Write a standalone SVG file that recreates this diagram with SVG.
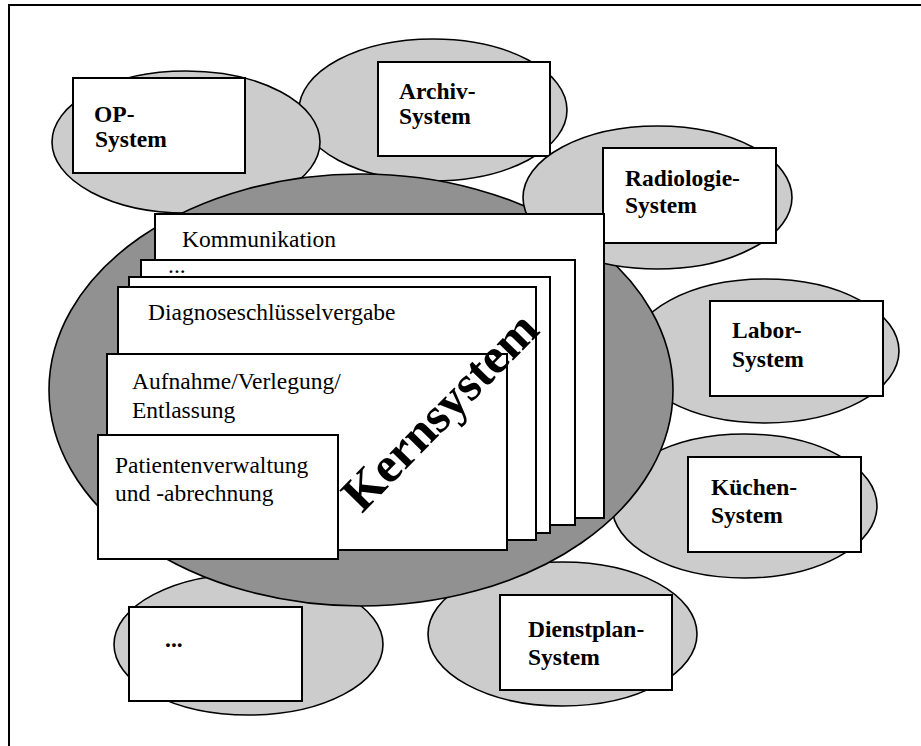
<svg xmlns="http://www.w3.org/2000/svg" width="921" height="746" viewBox="0 0 921 746">
<style>
.sat{fill:#cccccc;stroke:#000;stroke-width:1.6}
.core{fill:#919191;stroke:#000;stroke-width:1.6}
.box{fill:#fff;stroke:#000;stroke-width:2}
.mod{fill:#fff;stroke:#000;stroke-width:2}
text{font-family:'Liberation Serif','Tinos','DejaVu Serif','Noto Serif','Times New Roman',serif;fill:#000}
.bt{font-weight:bold;font-size:23.5px}
.rt{font-size:23.5px}
.big{font-weight:bold;font-size:50px}
</style>
<rect width="921" height="746" fill="#fff"/>
<g id="frame" stroke="#000" stroke-width="2" fill="none">
<line x1="8" y1="5" x2="921" y2="5"/>
<line x1="9" y1="4" x2="9" y2="746"/>
</g>
<g id="archiv">
<ellipse class="sat" cx="433" cy="110" rx="134" ry="71"/>
<rect class="box" x="378" y="62" width="172" height="94"/>
<text class="bt" x="399" y="99">Archiv-</text>
<text class="bt" x="399" y="124">System</text>
</g>
<g id="op">
<ellipse class="sat" cx="186" cy="142" rx="134" ry="71"/>
<rect class="box" x="73" y="78" width="172" height="95"/>
<text class="bt" x="94" y="122">OP-</text>
<text class="bt" x="95" y="147">System</text>
</g>
<g id="labor">
<ellipse class="sat" cx="765" cy="351" rx="134" ry="72"/>
<rect class="box" x="710" y="301" width="173" height="95"/>
<text class="bt" x="732" y="338">Labor-</text>
<text class="bt" x="732" y="367">System</text>
</g>
<g id="kuechen">
<ellipse class="sat" cx="744.5" cy="506" rx="132.5" ry="72"/>
<rect class="box" x="688" y="457" width="173" height="95"/>
<text class="bt" x="711" y="495">Küchen-</text>
<text class="bt" x="711" y="523">System</text>
</g>
<g id="dienstplan">
<ellipse class="sat" cx="562.5" cy="634" rx="134.5" ry="72"/>
<rect class="box" x="500" y="595" width="172" height="95"/>
<text class="bt" x="528" y="637">Dienstplan-</text>
<text class="bt" x="528" y="665">System</text>
</g>
<g id="weitere">
<ellipse class="sat" cx="248.5" cy="644.5" rx="134.5" ry="70.5"/>
<rect class="box" x="129" y="607" width="173" height="94"/>
<text class="bt" x="165" y="647">...</text>
</g>
<g id="kernsystem">
<ellipse class="core" cx="361" cy="390" rx="312" ry="216"/>
</g>
<g id="radiologie">
<ellipse class="sat" cx="657.5" cy="197.5" rx="134.5" ry="71.5"/>
<rect class="box" x="603" y="148" width="173" height="95"/>
<text class="bt" x="625" y="186">Radiologie-</text>
<text class="bt" x="625" y="213">System</text>
</g>
<g id="mod-kommunikation">
<rect class="mod" x="155" y="214" width="449" height="304"/>
<text class="rt" x="182" y="247">Kommunikation</text>
</g>
<g id="mod-weitere">
<rect class="mod" x="141" y="260" width="434" height="265"/>
<text class="rt" x="168" y="273">...</text>
</g>
<g id="mod-leer">
<rect class="mod" x="129" y="277" width="421" height="256"/>
</g>
<g id="mod-diagnose">
<rect class="mod" x="118" y="287" width="418" height="253"/>
<text class="rt" x="148" y="320">Diagnoseschlüsselvergabe</text>
</g>
<g id="mod-aufnahme">
<rect class="mod" x="107" y="354" width="400" height="196"/>
<text class="rt" x="132" y="389">Aufnahme/Verlegung/</text>
<text class="rt" x="132" y="418">Entlassung</text>
</g>
<g id="mod-patienten">
<rect class="mod" x="98" y="435" width="240" height="124"/>
<text class="rt" x="115" y="473">Patientenverwaltung</text>
<text class="rt" x="115" y="501">und -abrechnung</text>
</g>
<g id="kernsystem-label">
<text class="big" transform="translate(362,514) rotate(-45.5)">Kernsystem</text>
</g>
<g id="connectors"/>
</svg>
